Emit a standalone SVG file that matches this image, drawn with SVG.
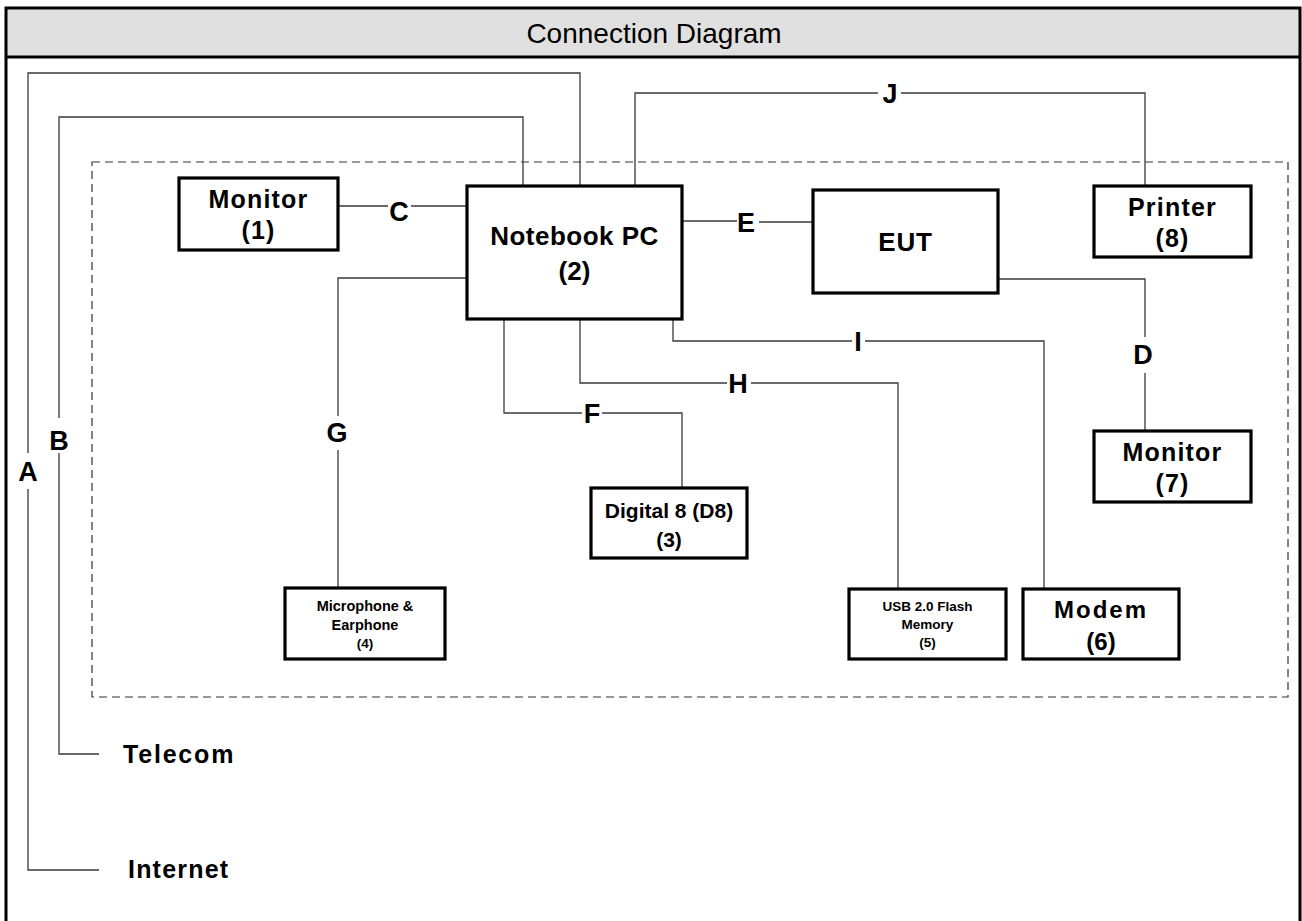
<svg xmlns="http://www.w3.org/2000/svg" width="1302" height="921" viewBox="0 0 1302 921">
<style>
.frame{fill:none;stroke:#000;stroke-width:3}
.box{fill:#fff;stroke:#000;stroke-width:3.2}
.w{fill:none;stroke:#3a3a3a;stroke-width:1.3}
.dash{fill:none;stroke:#333;stroke-width:1.2;stroke-dasharray:8 5}
text{font-family:"Liberation Sans",Arial,sans-serif;font-weight:bold;fill:#000;text-anchor:middle}
.big{font-size:25px;letter-spacing:1.2px}
.lbl{font-size:27px}
.sm{font-size:14.5px}
.xs{font-size:13.5px}
</style>
<rect x="6" y="8" width="1294" height="49" fill="#e0e0e0"/>
<path class="frame" d="M6,921 V8 H1300 V921 M6,57 H1300"/>
<text x="654" y="43" style="font-weight:normal;font-size:28px">Connection Diagram</text>
<rect class="dash" x="92" y="162" width="1196" height="535"/>
<g id="connectors">
<path class="w" d="M99,870 H28 V489 M28,453 V73 H580 V186"/>
<path class="w" d="M99,754 H59 V453 M59,418 V117 H523 V186"/>
<path class="w" d="M338,206 H388 M411,206 H467"/>
<path class="w" d="M682,221 H737 M759,222 H813"/>
<path class="w" d="M635,186 V93 H878 M901,93 H1145 V186"/>
<path class="w" d="M998,279 H1145 V337 M1145,373 V431"/>
<path class="w" d="M467,278 H338 V416 M338,450 V588"/>
<path class="w" d="M673,319 V341 H852 M865,341 H1044 V589"/>
<path class="w" d="M580,319 V383 H727 M751,383 H898 V589"/>
<path class="w" d="M504,319 V413 H582 M602,413 H682 V488"/>
<text class="lbl" x="28" y="481">A</text>
<text class="lbl" x="59" y="450">B</text>
<text class="lbl" x="399" y="221">C</text>
<text class="lbl" x="1143" y="364">D</text>
<text class="lbl" x="746" y="232">E</text>
<text class="lbl" x="592" y="423">F</text>
<text class="lbl" x="337" y="442">G</text>
<text class="lbl" x="738" y="393">H</text>
<text class="lbl" x="858" y="351">I</text>
<text class="lbl" x="890" y="103">J</text>
</g>
<g id="telecom"><text class="big" x="123" y="763" style="text-anchor:start;letter-spacing:1.8px">Telecom</text></g>
<g id="internet"><text class="big" x="128" y="878" style="text-anchor:start">Internet</text></g>
<g id="monitor1">
<rect class="box" x="179" y="178" width="159" height="72"/>
<text class="big" x="258.5" y="208">Monitor</text>
<text class="big" x="258.5" y="239">(1)</text>
</g>
<g id="notebook">
<rect class="box" x="467" y="186" width="215" height="133"/>
<text x="574.5" y="245" style="font-size:26px;letter-spacing:0.5px">Notebook PC</text>
<text x="574.5" y="280" style="font-size:26px">(2)</text>
</g>
<g id="eut">
<rect class="box" x="813" y="190" width="185" height="103"/>
<text x="905.5" y="251" style="font-size:26px;letter-spacing:0.8px">EUT</text>
</g>
<g id="printer">
<rect class="box" x="1094" y="186" width="157" height="71"/>
<text class="big" x="1172.5" y="216">Printer</text>
<text class="big" x="1172.5" y="247">(8)</text>
</g>
<g id="monitor7">
<rect class="box" x="1094" y="431" width="157" height="71"/>
<text class="big" x="1172.5" y="461">Monitor</text>
<text class="big" x="1172.5" y="492">(7)</text>
</g>
<g id="digital8">
<rect class="box" x="591" y="488" width="156" height="70"/>
<text x="669" y="518" style="font-size:21px">Digital 8 (D8)</text>
<text x="669" y="547" style="font-size:21px">(3)</text>
</g>
<g id="microphone">
<rect class="box" x="285" y="588" width="160" height="71"/>
<text class="sm" x="365" y="611">Microphone &amp;</text>
<text class="sm" x="365" y="630">Earphone</text>
<text class="xs" x="365" y="648">(4)</text>
</g>
<g id="usb">
<rect class="box" x="849" y="589" width="157" height="70"/>
<text class="xs" x="927.5" y="611">USB 2.0 Flash</text>
<text class="xs" x="927.5" y="629">Memory</text>
<text class="xs" x="927.5" y="647">(5)</text>
</g>
<g id="modem">
<rect class="box" x="1023" y="589" width="156" height="70"/>
<text x="1101" y="618" style="font-size:24px;letter-spacing:2px">Modem</text>
<text x="1101" y="650" style="font-size:24px">(6)</text>
</g>
</svg>
